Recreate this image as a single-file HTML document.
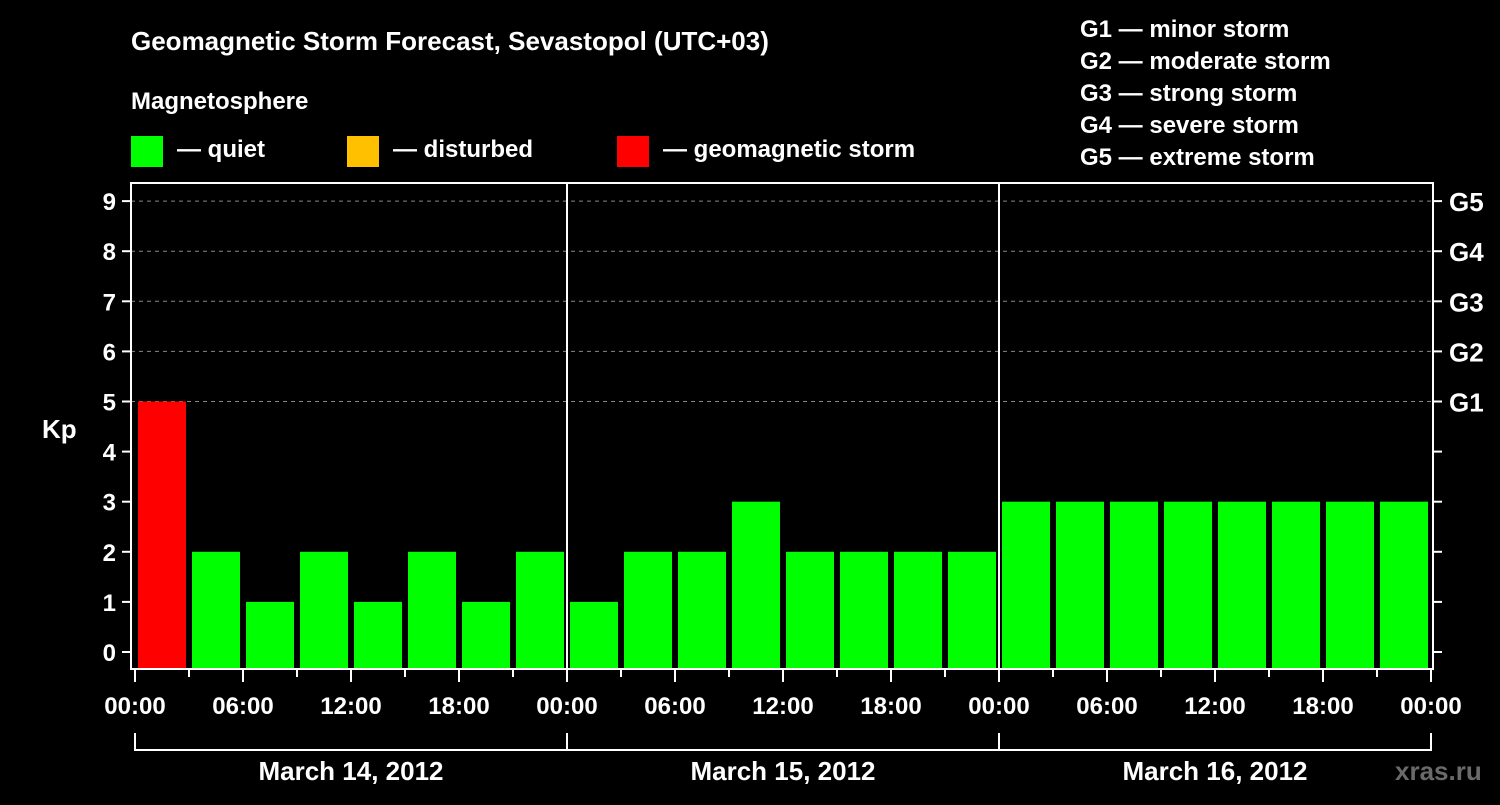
<!DOCTYPE html>
<html><head><meta charset="utf-8"><style>
body{margin:0;background:#000;width:1500px;height:800px;overflow:hidden}
svg text{font-family:"Liberation Sans",sans-serif;font-weight:bold;fill:#fff}
</style></head><body>
<svg id="c" width="1500" height="800">
<text x="131" y="50" font-size="26">Geomagnetic Storm Forecast, Sevastopol (UTC+03)</text>
<text x="131" y="109" font-size="24">Magnetosphere</text>
<rect x="131" y="136" width="32" height="31" fill="#00ff00"/>
<text x="177" y="157" font-size="24">— quiet</text>
<rect x="347" y="136" width="32" height="31" fill="#ffc000"/>
<text x="393" y="157" font-size="24">— disturbed</text>
<rect x="617" y="136" width="32" height="31" fill="#ff0000"/>
<text x="663" y="157" font-size="24">— geomagnetic storm</text>
<g font-size="24">
<text x="1080" y="37">G1 — minor storm</text>
<text x="1080" y="69">G2 — moderate storm</text>
<text x="1080" y="101">G3 — strong storm</text>
<text x="1080" y="133">G4 — severe storm</text>
<text x="1080" y="165">G5 — extreme storm</text>
</g>
<text x="42" y="438" font-size="26">Kp</text>
<g id="plot"></g>
<text x="1395" y="780" font-size="26" fill="#666" style="fill:#6a6a6a">xras.ru</text>
</svg>
<script>
const kpValues=[5,2,1,2,1,2,1,2, 1,2,2,3,2,2,2,2, 3,3,3,3,3,3,3,3];
const dayLabels=["March 14, 2012","March 15, 2012","March 16, 2012"];
const hourLabels=["00:00","06:00","12:00","18:00"];
const gLabels=["G1","G2","G3","G4","G5"];
const NS="http://www.w3.org/2000/svg";
const g=document.getElementById('plot');
const L=131,R=1433,T=183,B=669,X0=135,slot=54;
const y=v=>652-v*50.1;
const x=i=>X0+i*slot;
function mk(t,a,p){const e=document.createElementNS(NS,t);for(const k in a)e.setAttribute(k,a[k]);(p||g).appendChild(e);return e;}
for(let v=5;v<=9;v++){const e=mk('line',{x1:L,x2:R,y1:y(v),y2:y(v),stroke:'#888','stroke-dasharray':'4 4','stroke-width':1});

}
kpValues.forEach((v,i)=>{const c=v>=5?'#ff0000':(v>=4?'#ffc000':'#00ff00');
const r=mk('rect',{x:x(i)+3,y:y(v),width:48,height:B-1-y(v),fill:c});

});
for(let d=1;d<3;d++){const e=mk('line',{x1:x(d*8),x2:x(d*8),y1:T,y2:B,stroke:'#fff','stroke-width':2});

}
const fr=mk('rect',{x:L,y:T,width:R-L,height:B-T,fill:'none',stroke:'#fff','stroke-width':2});


for(let v=0;v<=9;v++){mk('line',{x1:122,x2:L,y1:y(v),y2:y(v),stroke:'#fff','stroke-width':2});
mk('line',{x1:R,x2:R+9,y1:y(v),y2:y(v),stroke:'#fff','stroke-width':2});
const t=mk('text',{x:116,y:y(v)+9,'font-size':24,'text-anchor':'end'});t.textContent=v;

}
gLabels.forEach((s,i)=>{const t=mk('text',{x:1449,y:y(5+i)+10,'font-size':26});t.textContent=s;

});
for(let i=0;i<=24;i++){const major=i%2==0;mk('line',{x1:x(i),x2:x(i),y1:B,y2:B+(major?13:8),stroke:'#fff','stroke-width':2});
if(major){const t=mk('text',{x:x(i),y:714,'font-size':24,'text-anchor':'middle'});t.textContent=hourLabels[(i/2)%4];

}}
mk('path',{d:`M${x(0)} 733V750H${x(24)}V733M${x(8)} 733V750M${x(16)} 733V750`,fill:'none',stroke:'#fff','stroke-width':2});
dayLabels.forEach((s,i)=>{const t=mk('text',{x:x(i*8+4),y:780,'font-size':26,'text-anchor':'middle'});t.textContent=s;

});
</script>
</body></html>
